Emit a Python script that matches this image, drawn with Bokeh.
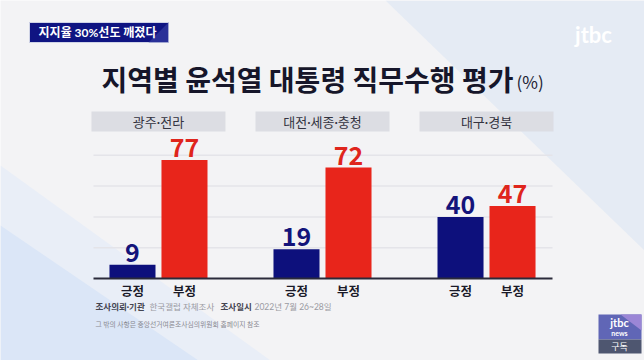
from bokeh.plotting import figure
from bokeh.models import FactorRange, Range1d, ColumnDataSource, Label
from bokeh.core.properties import value
from bokeh.embed import file_html
from bokeh.resources import INLINE

# ---------------- data ----------------
regions = ["광주·전라", "대전·세종·충청", "대구·경북"]
responses = ["긍정", "부정"]
positive = [9, 19, 40]
negative = [77, 72, 47]
grid_ticks = [20, 40, 60, 80]
headline = "지지율 30%선도 깨졌다"
title = "지역별 윤석열 대통령 직무수행 평가"
unit = "(%)"
note_parts = ["조사의뢰·기관", "한국갤럽 자체조사", "조사일시", "2022년 7월 26~28일"]
note2 = "그 밖의 사항은 중앙선거여론조사심의위원회 홈페이지 참조"

# ---------------- style / layout ----------------
W, H = 644, 360
PX_PER_UNIT = 1.54
BASE_Y = 278
FONT = "Noto Sans CJK KR"
MIXFONT = "Lato, 'Noto Sans CJK KR'"
NAVY = "#0d107c"
RED = "#e8251b"
NAVY_TXT = "#13137a"
RED_TXT = "#df251c"
BG = "#f3f3f5"
GROUP_PAD = 1.154
RANGE_PAD = 2.038
LABEL_GAP = 3 / PX_PER_UNIT

factors = [(r, c) for r in regions for c in responses]
vals, bar_colors, txt_colors = [], [], []
for pos, neg in zip(positive, negative):
    vals += [pos, neg]
    bar_colors += [NAVY, RED]
    txt_colors += [NAVY_TXT, RED_TXT]

src = ColumnDataSource(dict(
    x=factors, v=vals, color=bar_colors, tcolor=txt_colors,
    label=[str(v) for v in vals], ly=[v + LABEL_GAP for v in vals],
    cat=[c for (_, c) in factors],
))

x_range = FactorRange(factors=factors, factor_padding=0.0, group_padding=GROUP_PAD,
                      range_padding=RANGE_PAD, range_padding_units="absolute")
y_range = Range1d(start=-(H - BASE_Y) / PX_PER_UNIT, end=BASE_Y / PX_PER_UNIT)

# synthetic x coordinate for a canvas pixel column
span = len(factors) + (len(regions) - 1) * GROUP_PAD + 2 * RANGE_PAD
def sx(px):
    return -RANGE_PAD + px * span / W
def sxs(pxs):
    return [sx(v) for v in pxs]

p = figure(width=W, height=H, x_range=x_range, y_range=y_range,
           output_backend="svg", toolbar_location=None,
           x_axis_location=None, y_axis_location=None,
           min_border=0, background_fill_color=BG, border_fill_color=BG,
           outline_line_color=None)
p.xgrid.visible = False
p.ygrid.visible = False
p.extra_y_ranges = {"px": Range1d(H, 0)}

PY = dict(y_range_name="px")
LB = dict(x_units="screen", y_range_name="px")

# background decoration
p.patch(sxs([0, 0, 270]), [165, 360, 360], fill_color="#e9eef7", line_color=None, **PY)
p.patch(sxs([0, 0, 198]), [225, 360, 360], fill_color="#dbe6f7", line_color=None, **PY)
p.patch(sxs([385, 644, 644]), [0, 0, 250], fill_color="#e5ebf4", line_color=None, **PY)

# header box
p.quad(left=sx(29), right=sx(168), top=22, bottom=42, fill_color="#0f1482",
       line_color="#cfd3e6", line_width=1, **PY)
p.patch(sxs([148, 168, 168]), [42, 22, 42], fill_color="#3a43a6", line_color=None,
        fill_alpha=0.6, **PY)
p.add_layout(Label(x=97, y=32, text=headline, text_font=MIXFONT, text_font_style="bold",
                   text_font_size="12px", text_color="white", text_align="center",
                   text_baseline="middle", **LB))

# jtbc logo
p.add_layout(Label(x=593, y=34, text="jtbc", text_font="Lato", text_font_style="bold",
                   text_font_size="22px", text_color="white", text_align="center",
                   text_baseline="middle", **LB))

# title
p.add_layout(Label(x=307, y=78, text=title, text_font=FONT, text_font_style="bold",
                   text_font_size="28px", text_color="#16162a", text_align="center",
                   text_baseline="middle", **LB))
p.add_layout(Label(x=516, y=81, text=unit, text_font=FONT,
                   text_font_size="17px", text_color="#222233", text_align="left",
                   text_baseline="middle", **LB))

# gridlines
p.segment(x0=sx(93), x1=sx(552), y0=grid_ticks, y1=grid_ticks, line_color="#e4e4e9",
          line_width=1.5)

# region header boxes
p.rect(x=regions, y=121, width=134, height=20, width_units="screen",
       height_units="screen", fill_color="#dcdde3", line_color=None, **PY)
p.text(x=regions, y=121, text=regions, text_font=value(MIXFONT), text_font_size="13px",
       text_color="#333340", text_align="center", text_baseline="middle", **PY)

# bars
p.vbar(x="x", top="v", bottom=0, width=0.885, fill_color="color", line_color=None, source=src)

# baseline
p.segment(x0=[sx(93)], x1=[sx(552)], y0=[0], y1=[0], line_color="#2a2a3a", line_width=2)

# value labels
p.text(x="x", y="ly", text="label", text_color="tcolor", text_font=value(FONT),
       text_font_style="bold", text_font_size="25px", text_align="center",
       text_baseline="bottom", source=src)

# category labels
p.text(x="x", y=290, text="cat", text_color="#1a1a28", text_font=value(FONT),
       text_font_style="bold", text_font_size="12.5px", text_align="center",
       text_baseline="middle", source=src, **PY)

# footnotes
note_x = [95, 149, 220, 254]
note_style = [("bold", "#444450"), ("normal", "#9a9aa2"), ("bold", "#444450"), ("normal", "#9a9aa2")]
for t, nx, (fs, col) in zip(note_parts, note_x, note_style):
    p.add_layout(Label(x=nx, y=306, text=t, text_font=MIXFONT, text_font_style=fs,
                       text_font_size="8.5px", text_color=col, text_align="left",
                       text_baseline="middle", **LB))
p.add_layout(Label(x=95, y=323, text=note2, text_font=FONT, text_font_size="6.8px",
                   text_color="#8a8a92", text_align="left", text_baseline="middle", **LB))

# jtbc news subscribe icon
p.quad(left=sx(598), right=sx(641), top=314, bottom=339, fill_color="#6066b6", line_color=None, **PY)
p.patch(sxs([620, 641, 641]), [314, 314, 330], fill_color="#9b86d6", line_color=None, **PY)
p.quad(left=sx(598), right=sx(641), top=339, bottom=353, fill_color="#4e5670", line_color=None, **PY)
p.add_layout(Label(x=619, y=322, text="jtbc", text_font="Lato", text_font_style="bold",
                   text_font_size="11px", text_color="white", text_align="center",
                   text_baseline="middle", **LB))
p.add_layout(Label(x=619, y=332, text="news", text_font="Lato", text_font_style="bold",
                   text_font_size="7px", text_color="white", text_align="center",
                   text_baseline="middle", **LB))
p.add_layout(Label(x=619, y=346, text="구독", text_font=FONT,
                   text_font_size="9px", text_color="white", text_align="center",
                   text_baseline="middle", **LB))

open("out.html", "w").write(file_html(p, INLINE))
